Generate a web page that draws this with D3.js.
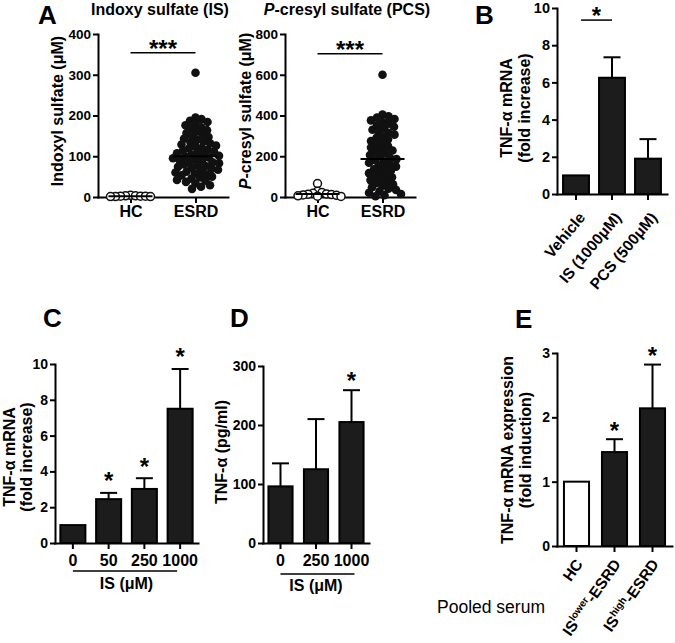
<!DOCTYPE html>
<html><head><meta charset="utf-8">
<script src="https://cdn.jsdelivr.net/npm/d3@7"></script>
<style>
body{margin:0;background:#fff}
svg{display:block}
text{font-family:"Liberation Sans",Arial,Helvetica,sans-serif;fill:#000}
</style>
</head><body>
<svg id="c" width="675" height="643"></svg>
<script>
// ---------------- DATA ----------------
const groupsA = ["HC", "ESRD"];
const isTicks = [0, 100, 200, 300, 400];
const isHC = [1, 2, 3, 2, 1, 4, 2, 3, 1];
const isESRD = [305, 195, 191, 187, 184, 179, 176, 171, 168, 164, 160, 157, 153, 149, 147, 143, 140, 137, 134, 132,
  129, 126, 124, 121, 119, 116, 114, 111, 109, 107, 105, 103, 101, 99, 97, 95, 93, 91, 89, 87, 85, 83, 80, 78,
  76, 74, 72, 69, 67, 65, 62, 60, 58, 56, 53, 50, 48, 45, 42, 40, 37, 33, 29, 25, 20];
const isMeans = [2, 100];
const pcsTicks = [0, 200, 400, 600, 800];
const pcsHC = [66, 28, 22, 18, 15, 12, 10, 8, 6, 4, 3, 14];
const pcsESRD = [600, 405, 396, 390, 383, 376, 368, 360, 352, 345, 338, 330, 322, 315, 306, 298, 290, 282, 275,
  266, 258, 250, 243, 236, 228, 221, 214, 206, 199, 192, 186, 180, 174, 168, 161, 155, 149, 142, 136, 130, 123,
  117, 110, 104, 97, 90, 83, 76, 69, 62, 55, 48, 41, 35, 28, 21, 15, 9, 4];
const pcsMeans = [15, 186];

const catsB = ["Vehicle", "IS (1000μM)", "PCS (500μM)"];
const meanB = [1.0, 6.25, 1.9];
const errB = [0, 1.1, 1.05];
const ticksB = [0, 2, 4, 6, 8, 10];

const catsC = ["0", "50", "250", "1000"];
const meanC = [1.0, 2.45, 3.02, 7.5];
const errC = [0, 0.35, 0.6, 2.22];
const starsC = [1, 2, 3];
const ticksC = [0, 2, 4, 6, 8, 10];

const catsD = ["0", "250", "1000"];
const meanD = [96, 125, 205];
const errD = [39, 85, 54];
const starsD = [2];
const ticksD = [0, 100, 200, 300];

const catsE = ["HC", "ISlower-ESRD", "IShigh-ESRD"];
const labelsE = [["HC"], ["IS", "lower", "-ESRD"], ["IS", "high", "-ESRD"]];
const meanE = [1.0, 1.46, 2.14];
const errE = [0, 0.2, 0.68];
const starsE = [1, 2];
const ticksE = [0, 1, 2, 3];

// ---------------- DRAW ----------------
const svg = d3.select("#c");
const BLACK = "#111";
const fmt = d3.format("d");

function styleAxis(g, fs) {
  g.select(".domain").attr("stroke", "#000").attr("stroke-width", 2).attr("stroke-linecap", "square");
  g.selectAll(".tick line").attr("stroke", "#000").attr("stroke-width", 2);
  g.selectAll(".tick text").attr("font-size", fs).attr("font-weight", "bold").attr("fill", "#000")
    .style("font-family", '"Liberation Sans",Arial,sans-serif');
}

function star(g, x, yc, txt, fs) {
  g.append("text").attr("x", x).attr("y", yc + 0.56 * fs).attr("text-anchor", "middle")
    .attr("font-size", fs).attr("font-weight", "bold").text(txt);
}

function letter(t, x, y) {
  svg.append("text").attr("x", x).attr("y", y).attr("font-size", 26).attr("font-weight", "bold").text(t);
}

function swarm(values, yScale, D) {
  const pts = values.map(v => ({ v, y: yScale(v) })).sort((a, b) => a.y - b.y);
  const placed = [];
  for (const p of pts) {
    for (let k = 0; k < 400; k++) {
      const off = (k % 2 ? 1 : -1) * Math.ceil(k / 2) * 0.5;
      if (placed.every(q => (q.x - off) ** 2 + (q.y - p.y) ** 2 >= D * D)) { p.x = off; break; }
    }
    placed.push(p);
  }
  return placed;
}

function yLabel(lines, xs, yc, fs) {
  lines.forEach((ln, i) => {
    const t = svg.append("text").attr("transform", `translate(${xs[i]},${yc}) rotate(-90)`)
      .attr("text-anchor", "middle").attr("font-size", fs).attr("font-weight", "bold");
    ln.forEach(part => {
      const s = t.append("tspan").text(part.t);
      if (part.i) s.attr("font-style", "italic");
    });
  });
}

function scatterPanel(c) {
  const g = svg.append("g");
  const x = d3.scalePoint().domain(groupsA).range([c.x0, c.x1]).padding(0.5);
  const y = d3.scaleLinear().domain([0, c.max]).range([c.yBot, c.yTop]);
  const ya = g.append("g").attr("transform", `translate(${c.x0},0)`)
    .call(d3.axisLeft(y).tickValues(c.ticks).tickFormat(fmt).tickSize(5).tickSizeOuter(0).tickPadding(2));
  styleAxis(ya, 13.5);
  const xa = g.append("g").attr("transform", `translate(0,${c.yBot})`)
    .call(d3.axisBottom(x).tickSize(6).tickSizeOuter(0).tickPadding(3));
  styleAxis(xa, 16);
  swarm(c.hc, y, 4.6).forEach(p => {
    g.append("circle").attr("cx", x("HC") + p.x).attr("cy", p.y).attr("r", 4)
      .attr("fill", "#fff").attr("stroke", BLACK).attr("stroke-width", 1.5);
  });
  swarm(c.esrd, y, 6.2).forEach(p => {
    g.append("circle").attr("cx", x("ESRD") + p.x).attr("cy", p.y).attr("r", 4.3).attr("fill", BLACK);
  });
  groupsA.forEach((k, i) => {
    g.append("line").attr("x1", x(k) - 22).attr("x2", x(k) + 22)
      .attr("y1", y(c.means[i])).attr("y2", y(c.means[i])).attr("stroke", "#000").attr("stroke-width", 2);
  });
  g.append("line").attr("x1", x("HC")).attr("x2", x("ESRD")).attr("y1", y(c.sig)).attr("y2", y(c.sig))
    .attr("stroke", "#000").attr("stroke-width", 1.5);
  star(g, (x("HC") + x("ESRD")) / 2, y(c.sig) - 9, "***", 24);
  const t = svg.append("text").attr("x", c.titleX).attr("y", 15).attr("text-anchor", "middle")
    .attr("font-size", 16).attr("font-weight", "bold");
  c.title.forEach(part => { const s = t.append("tspan").text(part.t); if (part.i) s.attr("font-style", "italic"); });
  yLabel([c.ylab], [c.ylabX], 111, 16);
}

function barPanel(c) {
  const g = svg.append("g");
  const x = d3.scaleBand().domain(c.cats).range([c.x0, c.x1]).paddingInner(c.pi).paddingOuter(c.po);
  const y = d3.scaleLinear().domain([0, c.max]).range([c.yBot, c.yTop]);
  c.cats.forEach((k, i) => {
    const top = y(c.means[i] + c.errs[i]);
    if (c.errs[i] > 0) {
      const cx = x(k) + x.bandwidth() / 2;
      g.append("line").attr("x1", cx).attr("x2", cx).attr("y1", y(c.means[i])).attr("y2", top)
        .attr("stroke", "#000").attr("stroke-width", 2);
      g.append("line").attr("x1", cx - 8.5).attr("x2", cx + 8.5).attr("y1", top).attr("y2", top)
        .attr("stroke", "#000").attr("stroke-width", 2);
    }
    g.append("rect").attr("x", x(k)).attr("width", x.bandwidth())
      .attr("y", y(c.means[i])).attr("height", y(0) - y(c.means[i]))
      .attr("fill", c.fills ? c.fills[i] : "#1c1c1c").attr("stroke", "#000").attr("stroke-width", 2);
  });
  const ya = g.append("g").attr("transform", `translate(${c.x0},0)`)
    .call(d3.axisLeft(y).tickValues(c.ticks).tickFormat(fmt).tickSize(5).tickSizeOuter(0).tickPadding(2));
  styleAxis(ya, c.tickFs);
  const xa = g.append("g").attr("transform", `translate(0,${c.yBot})`)
    .call(d3.axisBottom(x).tickSize(6).tickSizeOuter(0).tickPadding(6));
  styleAxis(xa, 16);
  if (c.hideXLabels) xa.selectAll(".tick text").remove();
  (c.stars || []).forEach(i => {
    const cx = x(c.cats[i]) + x.bandwidth() / 2;
    star(g, cx, y(c.means[i] + c.errs[i]) - c.starOff, "*", 24);
  });
  return { g, x, y };
}

// Panel A
letter("A", 38, 24);
scatterPanel({ x0: 98, x1: 228, yTop: 34, yBot: 197, max: 400, ticks: isTicks, hc: isHC, esrd: isESRD,
  means: isMeans, sig: 354, title: [{ t: "Indoxy sulfate (IS)" }], titleX: 160,
  ylab: [{ t: "Indoxyl sulfate (μM)" }], ylabX: 63 });
scatterPanel({ x0: 285, x1: 415, yTop: 34, yBot: 197, max: 800, ticks: pcsTicks, hc: pcsHC, esrd: pcsESRD,
  means: pcsMeans, sig: 703, title: [{ t: "P", i: 1 }, { t: "-cresyl sulfate (PCS)" }], titleX: 347,
  ylab: [{ t: "P", i: 1 }, { t: "-cresyl sulfate (μM)" }], ylabX: 251 });

// Panel B
letter("B", 475, 24);
const pB = barPanel({ x0: 557, x1: 667, yTop: 8, yBot: 194, max: 10, ticks: ticksB, tickFs: 14.5,
  cats: catsB, means: meanB, errs: errB, pi: 0.28, po: 0.168, hideXLabels: true });
catsB.forEach(k => {
  const ax = pB.x(k) + pB.x.bandwidth() / 2 + 10;
  svg.append("text").attr("transform", `translate(${ax},218) rotate(-50)`).attr("text-anchor", "end")
    .attr("font-size", 15.5).attr("font-weight", "bold").text(k);
});
{
  const xv = pB.x(catsB[0]) + pB.x.bandwidth() / 2 + 5, xi = pB.x(catsB[1]) + pB.x.bandwidth() / 2;
  svg.append("line").attr("x1", xv).attr("x2", xi).attr("y1", pB.y(9.35)).attr("y2", pB.y(9.35))
    .attr("stroke", "#000").attr("stroke-width", 1.5);
  star(svg, (xv + xi) / 2, pB.y(9.35) - 10, "*", 24);
}
yLabel([[{ t: "TNF-α mRNA" }], [{ t: "(fold increase)" }]], [512, 530], 108, 16);

// Panel C
letter("C", 43, 327);
const pC = barPanel({ x0: 55, x1: 198, yTop: 364, yBot: 543, max: 10, ticks: ticksC, tickFs: 14,
  cats: catsC, means: meanC, errs: errC, pi: 0.3, po: 0.15, stars: starsC, starOff: 17 });
{
  const a = pC.x(catsC[0]) + pC.x.bandwidth() / 2, b = pC.x(catsC[3]) + pC.x.bandwidth() / 2;
  svg.append("line").attr("x1", a).attr("x2", b - 3).attr("y1", 571).attr("y2", 571)
    .attr("stroke", "#000").attr("stroke-width", 1.5);
  svg.append("text").attr("x", (a + b) / 2).attr("y", 589).attr("text-anchor", "middle")
    .attr("font-size", 16).attr("font-weight", "bold").text("IS (μM)");
}
yLabel([[{ t: "TNF-α mRNA" }], [{ t: "(fold increase)" }]], [15, 32], 457, 16);

// Panel D
letter("D", 230, 327);
const pD = barPanel({ x0: 263, x1: 369, yTop: 366, yBot: 543, max: 300, ticks: ticksD, tickFs: 14,
  cats: catsD, means: meanD, errs: errD, pi: 0.32, po: 0.153, stars: starsD, starOff: 15 });
{
  const a = pD.x(catsD[0]) + pD.x.bandwidth() / 2, b = pD.x(catsD[2]) + pD.x.bandwidth() / 2;
  svg.append("line").attr("x1", a).attr("x2", b + 3).attr("y1", 574).attr("y2", 574)
    .attr("stroke", "#000").attr("stroke-width", 1.5);
  svg.append("text").attr("x", (a + b) / 2).attr("y", 591).attr("text-anchor", "middle")
    .attr("font-size", 16).attr("font-weight", "bold").text("IS (μM)");
}
yLabel([[{ t: "TNF-α (pg/ml)" }]], [227], 452, 16);

// Panel E
letter("E", 515, 328);
const pE = barPanel({ x0: 557, x1: 672, yTop: 353, yBot: 546, max: 3, ticks: ticksE, tickFs: 14,
  cats: catsE, means: meanE, errs: errE, pi: 0.34, po: 0.183, fills: ["#fff", "#1c1c1c", "#1c1c1c"],
  stars: starsE, starOff: 14, hideXLabels: true });
catsE.forEach((k, i) => {
  const ax = pE.x(k) + pE.x.bandwidth() / 2 + 7;
  const t = svg.append("text").attr("transform", `translate(${ax},564) rotate(-55)`).attr("text-anchor", "end")
    .attr("font-size", 15.5).attr("font-weight", "bold");
  const parts = labelsE[i];
  t.append("tspan").text(parts[0]);
  if (parts.length > 1) {
    t.append("tspan").attr("font-size", 10).attr("dy", -6).text(parts[1]);
    t.append("tspan").attr("dy", 6).text(parts[2]);
  }
});
yLabel([[{ t: "TNF-α mRNA expression" }], [{ t: "(fold induction)" }]], [513, 531], 450, 16);
svg.append("text").attr("x", 437).attr("y", 613).attr("font-size", 17.5).text("Pooled serum");
</script>
</body></html>
